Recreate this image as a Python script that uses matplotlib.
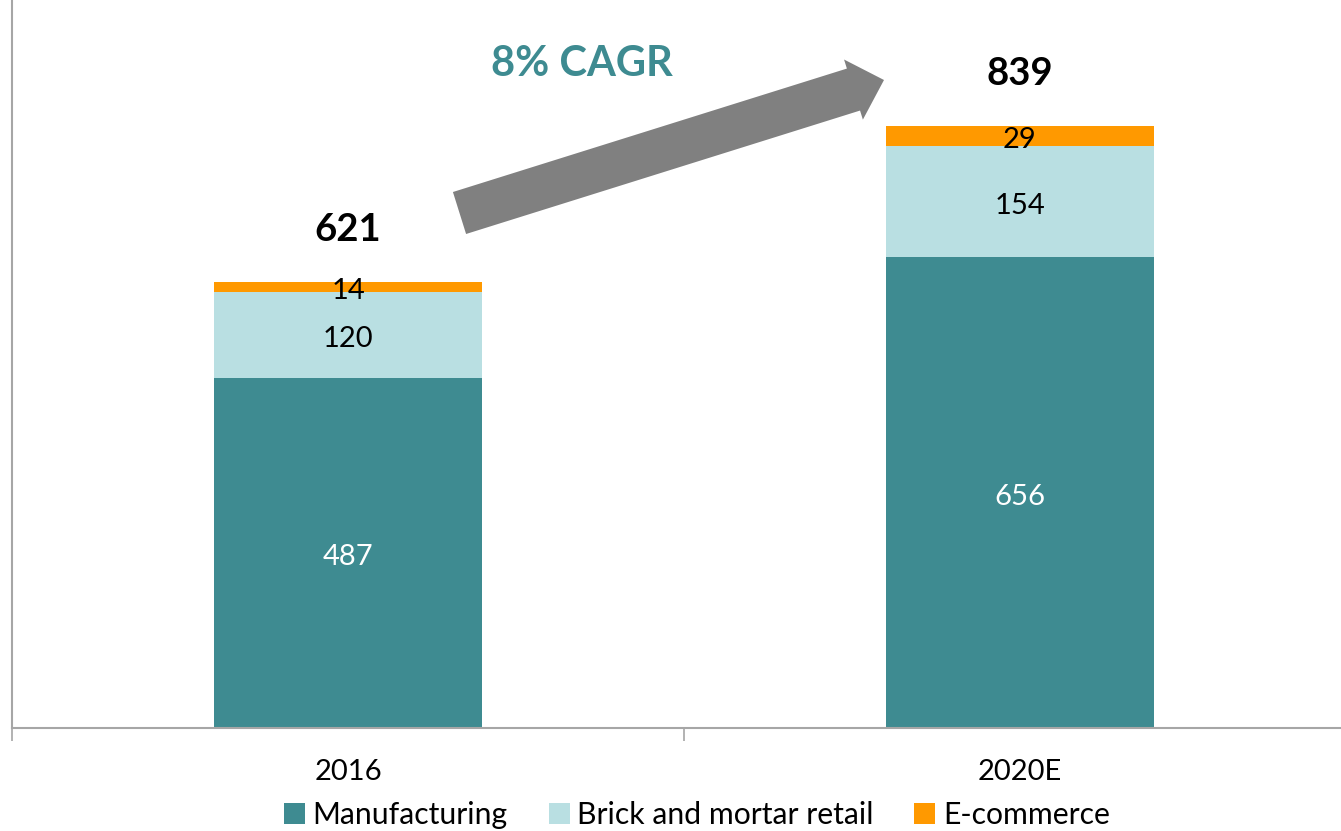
import matplotlib.pyplot as plt
import matplotlib.patches as mpatches
import matplotlib.transforms as mtransforms
import numpy as np

plt.rcParams['font.family'] = ['Lato', 'DejaVu Sans']

years = ['2016', '2020E']
manufacturing = [487, 656]
brick_mortar = [120, 154]
ecommerce = [14, 29]
totals = [621, 839]
cagr_text = '8% CAGR'

c_manu = '#3E8B91'
c_brick = '#B9DFE2'
c_ecom = '#FF9900'

W, H = 1341, 831
fig = plt.figure(figsize=(W / 100, H / 100), dpi=100)
ax = fig.add_axes([12 / W, (H - 728) / H, 1344 / W, 728 / H])

x = np.arange(len(years))
bw = 0.4
manu = np.array(manufacturing)
brick = np.array(brick_mortar)
ecom = np.array(ecommerce)

ax.bar(x, manu, bw, color=c_manu, label='Manufacturing')
ax.bar(x, brick, bw, bottom=manu, color=c_brick, label='Brick and mortar retail')
ax.bar(x, ecom, bw, bottom=manu + brick, color=c_ecom, label='E-commerce')

# labels sit a touch lower than the exact centre
lbl = mtransforms.offset_copy(ax.transData, fig=fig, y=-3, units='points')
for i in range(len(years)):
    ax.text(x[i], manu[i] / 2, str(manu[i]), ha='center', va='center',
            fontsize=21, color='white', transform=lbl)
    ax.text(x[i], manu[i] + brick[i] / 2, str(brick[i]), ha='center', va='center',
            fontsize=21, color='black', transform=lbl)
    ax.text(x[i], manu[i] + brick[i] + ecom[i] / 2, str(ecom[i]), ha='center',
            va='center', fontsize=21, color='black', transform=lbl)
    ax.text(x[i], totals[i] + 78, str(totals[i]), ha='center', va='center',
            fontsize=27.5, fontweight='bold', color='black', transform=lbl)

ax.set_xlim(-0.5, 1.5)
ax.set_ylim(0, 1014)
ax.set_yticks([])
ax.set_xticks(x)
ax.set_xticklabels(years, fontsize=21)
ax.set_xticks([-0.5, 0.5, 1.5], minor=True)
ax.tick_params(axis='x', which='major', length=0, pad=22)
ax.tick_params(axis='x', which='minor', length=9, width=1.2, color='#A6A6A6')
for s in ['top', 'right']:
    ax.spines[s].set_visible(False)
for s in ['left', 'bottom']:
    ax.spines[s].set_color('#A6A6A6')
    ax.spines[s].set_linewidth(1.5)

# growth arrow, drawn in figure pixels (origin top-left flipped)
flip = mtransforms.Affine2D().scale(1, -1).translate(0, H)
tail = (459.5, 213)
tip = (884, 80)
arrow = mpatches.FancyArrow(tail[0], tail[1], tip[0] - tail[0], tip[1] - tail[1],
                            width=44, head_width=63, head_length=32,
                            length_includes_head=True, color='#808080',
                            transform=flip, lw=0)
fig.patches.append(arrow)
arrow.set_figure(fig)

fig.text(582 / W, 1 - 64 / H, cagr_text, ha='center', va='center',
         fontsize=30, fontweight='bold', color=c_manu)

fig.legend(loc='center', bbox_to_anchor=(697 / W, 1 - 815 / H), ncol=3,
           frameon=False, fontsize=21.7, handlelength=0.7, handleheight=0.7,
           handletextpad=0.25, columnspacing=1.35, borderaxespad=0)

fig.savefig('out.png', dpi=100)
